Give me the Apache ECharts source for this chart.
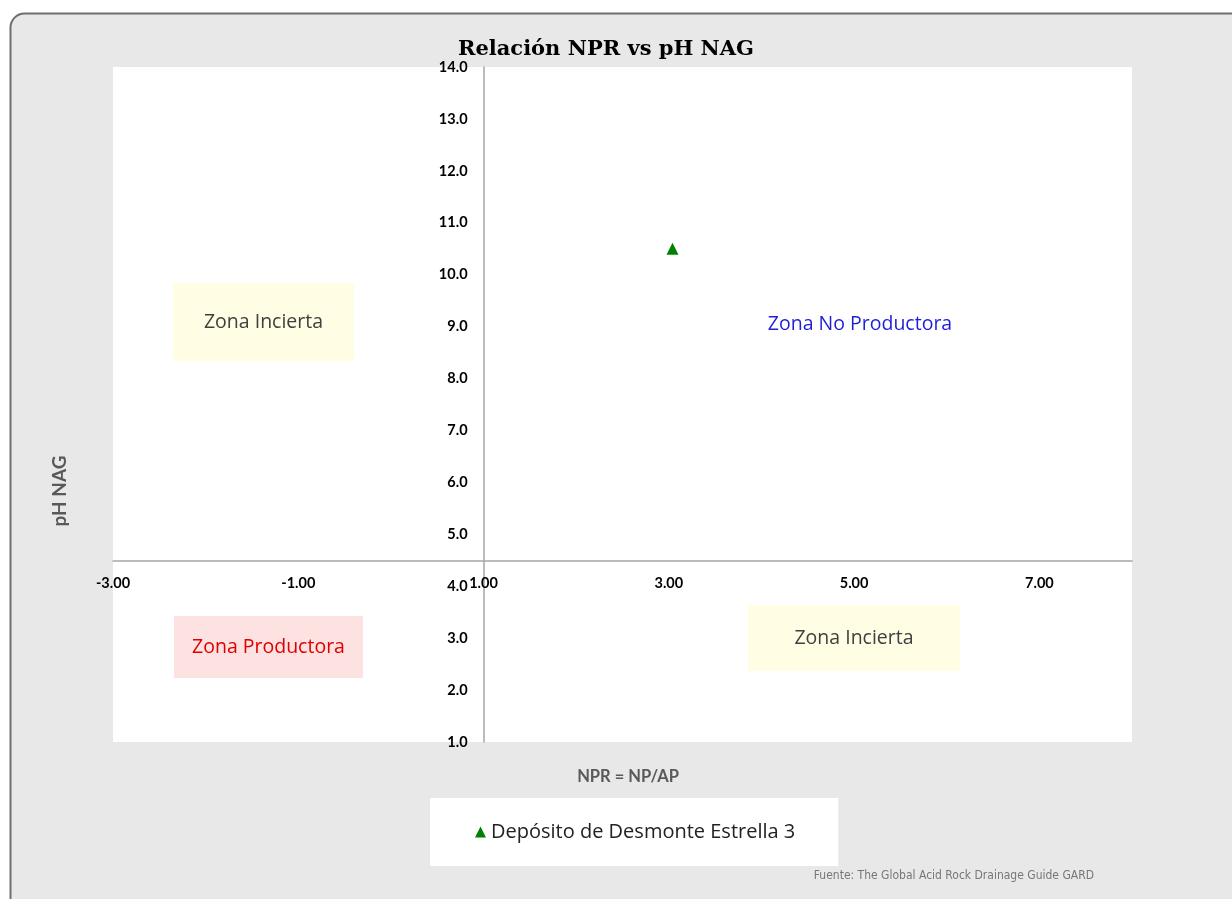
<!DOCTYPE html>
<html><head><meta charset="utf-8">
<script src="https://cdn.jsdelivr.net/npm/echarts@6/dist/echarts.min.js"></script>
<style>html,body{margin:0;padding:0;background:#fff}#c{width:1232px;height:899px}</style>
</head><body><div id="c"></div>
<script>
const seriesName = 'Depósito de Desmonte Estrella 3';
const nprValues = [3.04];
const phValues = [10.5];
const xMin = -3, xMax = 8, yMin = 1, yMax = 14;
const xCross = 1, yCross = 4.5;

const chart = echarts.init(document.getElementById('c'));
const gridL = 113, gridT = 67, gridW = 1019, gridH = 675;
const yOff = -(yCross - yMin) / (yMax - yMin) * gridH;
const xOff = -(xCross - xMin) / (xMax - xMin) * gridW;

const zoneFont = '"Open Sans", Lato, sans-serif';
function zone(x, y, w, h, fill, text, color) {
  return [
    {type:'rect', shape:{x:x, y:y, width:w, height:h}, style:{fill:fill}, z:1},
    {type:'text', x:x + w/2, y:y + h/2, style:{text:text, fill:color, font:'19.5px ' + zoneFont, align:'center', verticalAlign:'middle'}, z:2}
  ];
}

chart.setOption({
  animation:false,
  backgroundColor:'#ffffff',
  title:{text:'Relación NPR vs pH NAG', left:601, top:34, textAlign:'center',
    textStyle:{fontFamily:'"DejaVu Serif", serif', fontWeight:'bold', fontSize:21, color:'#000'}},
  grid:{left:gridL, top:gridT, width:gridW, height:gridH, show:true, backgroundColor:'#fff', borderWidth:0},
  xAxis:{type:'value', min:xMin, max:xMax, interval:1, position:'bottom', offset:yOff,
    axisLine:{show:true, onZero:false, lineStyle:{color:'#a6a6a6', width:1.5}},
    axisTick:{show:false}, splitLine:{show:false},
    axisLabel:{margin:16, fontFamily:'Lato, sans-serif', fontWeight:'bold', fontSize:14.5, color:'#000',
      formatter:v => (Math.round(v - xMin) % 2 === 0 && v < xMax) ? v.toFixed(2) : ''}},
  yAxis:{type:'value', min:yMin, max:yMax, interval:1, position:'left', offset:xOff,
    axisLine:{show:true, onZero:false, lineStyle:{color:'#a6a6a6', width:1.5}},
    axisTick:{show:false}, splitLine:{show:false},
    axisLabel:{margin:16, fontFamily:'Lato, sans-serif', fontWeight:'bold', fontSize:14.5, color:'#000',
      formatter:v => v.toFixed(1)}},
  legend:{data:[{name:seriesName, icon:'triangle'}], left:430, top:798, backgroundColor:'#fff',
    padding:[24, 43, 24, 45], itemWidth:11, itemHeight:11, itemGap:6,
    textStyle:{fontFamily:zoneFont, fontSize:20, color:'#222'}},
  graphic:[
    {type:'rect', shape:{x:10.5, y:13.5, width:1260, height:900, r:14}, style:{fill:'#e8e8e8', stroke:'#6e6e6e', lineWidth:2}, z:-10, silent:true},
    ...zone(173, 283, 181, 78, '#fffde3', 'Zona Incierta', '#404040'),
    ...zone(174, 616, 189, 62, '#fde2e2', 'Zona Productora', '#e00000'),
    ...zone(748, 605, 212, 66, '#fffde3', 'Zona Incierta', '#404040'),
    {type:'text', x:860, y:324, style:{text:'Zona No Productora', fill:'#1f1fd6', font:'19.5px ' + zoneFont, align:'center', verticalAlign:'middle'}, z:2},
    {type:'text', x:60, y:491, rotation:Math.PI/2, style:{text:'pH NAG', fill:'#595959', font:'bold 19px Lato, sans-serif', align:'center', verticalAlign:'middle'}, z:2},
    {type:'text', x:628, y:777, style:{text:'NPR = NP/AP', fill:'#595959', font:'bold 16.5px Lato, sans-serif', align:'center', verticalAlign:'middle'}, z:2},
    {type:'text', x:1094, y:876, style:{text:'Fuente: The Global Acid Rock Drainage Guide GARD', fill:'#777', font:'12px "Liberation Sans Narrow", "DejaVu Sans Condensed", sans-serif', align:'right', verticalAlign:'middle'}, z:2}
  ],
  series:[{name:seriesName, type:'scatter', symbol:'triangle', symbolSize:12,
    itemStyle:{color:'#008000', opacity:1},
    data:nprValues.map((x, i) => [x, phValues[i]])}]
});
</script></body></html>
